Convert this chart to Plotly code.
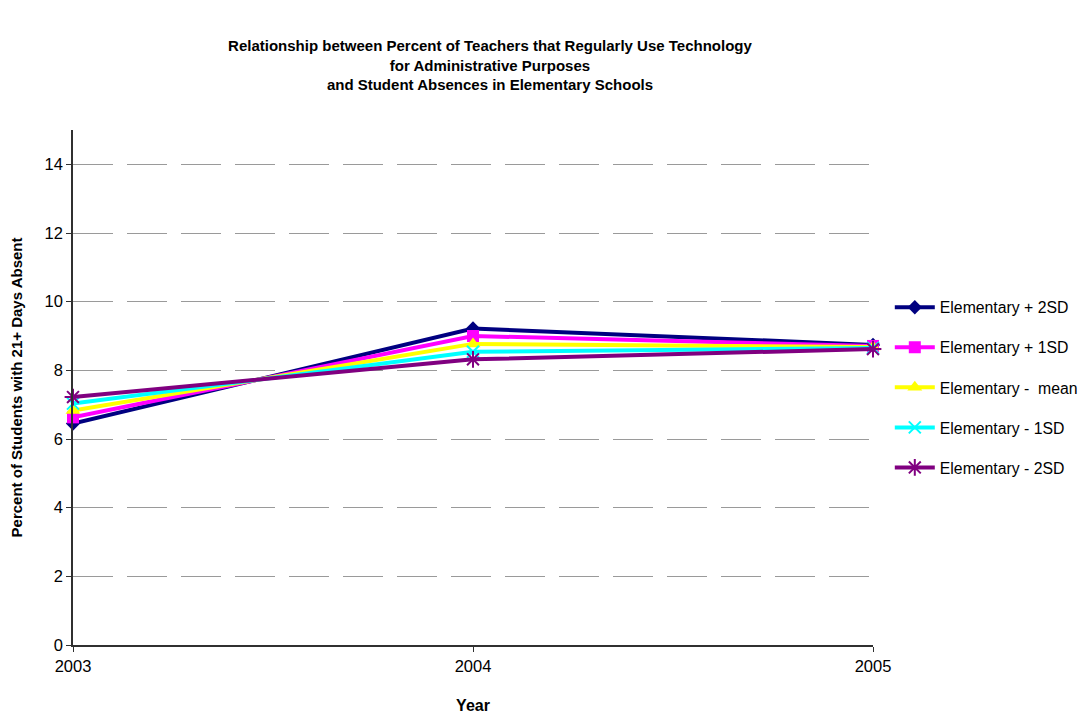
import plotly.graph_objects as go

years = [2003, 2004, 2005]
series_names = ["Elementary + 2SD", "Elementary + 1SD", "Elementary -  mean", "Elementary - 1SD", "Elementary - 2SD"]
plus_2sd = [6.45, 9.22, 8.74]
plus_1sd = [6.63, 9.0, 8.71]
mean_vals = [6.83, 8.77, 8.68]
minus_1sd = [7.03, 8.54, 8.65]
minus_2sd = [7.22, 8.32, 8.62]
y_ticks = [0, 2, 4, 6, 8, 10, 12, 14]

values = [plus_2sd, plus_1sd, mean_vals, minus_1sd, minus_2sd]
colors = ["#000080", "#FF00FF", "#FFFF00", "#00FFFF", "#800080"]
symbols = ["diamond", "square", "triangle-up", "x-thin-open", "asterisk-open"]
msizes = [11, 12, 13, 12, 14]

fig = go.Figure()
for i, (name, vals) in enumerate(zip(series_names, values)):
    marker = dict(symbol=symbols[i], size=msizes[i], color=colors[i])
    if symbols[i].endswith("open"):
        marker["line"] = dict(color=colors[i], width=2)
    fig.add_trace(go.Scatter(
        x=years, y=vals, name=name, mode="lines+markers",
        line=dict(color=colors[i], width=4),
        marker=marker, legendgroup=f"g{i}", cliponaxis=False,
    ))

fig.update_layout(
    width=1088, height=719,
    paper_bgcolor="white", plot_bgcolor="white",
    margin=dict(l=65, r=223, t=122, b=82, autoexpand=False),
    font=dict(family="Arial, Liberation Sans, sans-serif", color="black"),
    title=dict(
        text="<b>Relationship between Percent of Teachers that Regularly Use Technology<br>for Administrative Purposes<br>and Student Absences in Elementary Schools</b>",
        x=0.443, xanchor="center", y=0.94, yanchor="top",
        font=dict(size=15),
    ),
    legend=dict(
        x=1.021, xanchor="left", y=0.5, yanchor="middle",
        font=dict(size=15.8), tracegroupgap=16.5, itemwidth=40,
        bgcolor="rgba(0,0,0,0)",
    ),
    showlegend=True,
)
fig.update_xaxes(
    range=[2003, 2005], tickvals=years, ticktext=[str(y) for y in years],
    showgrid=False, zeroline=False, showline=True, linecolor="#303030", linewidth=1.5,
    ticks="outside", ticklen=5, tickcolor="#303030",
    tickfont=dict(size=16.5), automargin=False,
    title=dict(text="<b>Year</b>", font=dict(size=16), standoff=26),
)
fig.update_yaxes(
    range=[0, 15], tickvals=y_ticks,
    showgrid=True, gridcolor="#9a9a9a", griddash="40px,14px", gridwidth=1,
    zeroline=False, showline=True, linecolor="#303030", linewidth=1.5,
    ticks="outside", ticklen=5, tickcolor="#303030",
    tickfont=dict(size=16.5), automargin=False,
    title=dict(text="<b>Percent of Students with 21+ Days Absent</b>", font=dict(size=15), standoff=19),
)

fig.write_html("out.html")
